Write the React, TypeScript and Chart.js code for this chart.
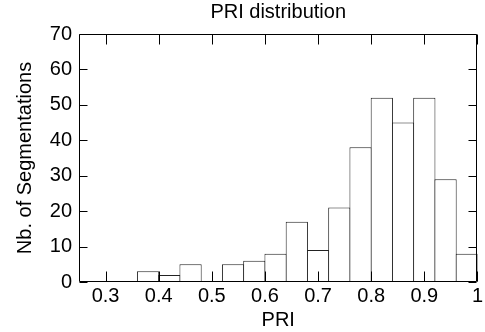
import React, { useEffect, useRef } from "react";
import { Chart, registerables } from "chart.js";

Chart.register(...registerables);

const binCenters = [0.38, 0.42, 0.46, 0.5, 0.54, 0.58, 0.62, 0.66, 0.7, 0.74, 0.78, 0.82, 0.86, 0.9, 0.94, 0.98];
const counts = [3, 2, 5, 0, 5, 6, 8, 17, 9, 21, 38, 52, 45, 52, 29, 8];
const xTickValues = [0.3, 0.4, 0.5, 0.6, 0.7, 0.8, 0.9, 1.0];
const yTickValues = [0, 10, 20, 30, 40, 50, 60, 70];

const FONT = "'Liberation Sans', Arial, Helvetica, sans-serif";
const FS = 20;

const frameTicks = {
  id: "frameTicks",
  afterDraw(chart: any) {
    const { ctx, chartArea, scales } = chart;
    const { left, right, top, bottom } = chartArea;
    const x = scales.x;
    const y = scales.y;
    ctx.save();
    ctx.strokeStyle = "#000";
    ctx.lineWidth = 1;
    const L = Math.round(left) + 0.5;
    const R = Math.round(right) - 0.5;
    const T = Math.round(top) + 0.5;
    const B = Math.round(bottom) - 0.5;
    ctx.beginPath();
    ctx.rect(L, T, R - L, B - T);
    for (const v of xTickValues) {
      const px = Math.round(x.getPixelForValue(v)) + 0.5;
      ctx.moveTo(px, B);
      ctx.lineTo(px, B - 10);
      ctx.moveTo(px, T);
      ctx.lineTo(px, T + 10);
    }
    for (const v of yTickValues) {
      const py = Math.round(y.getPixelForValue(v)) + 0.5;
      ctx.moveTo(L, py);
      ctx.lineTo(L + 8, py);
      ctx.moveTo(R, py);
      ctx.lineTo(R - 8, py);
    }
    ctx.stroke();
    ctx.restore();
  },
};

export default function App() {
  const canvasRef = useRef<HTMLCanvasElement>(null);

  useEffect(() => {
    document.body.style.margin = "0";
    const canvas = canvasRef.current;
    if (!canvas) return;
    Chart.defaults.font.family = FONT;
    Chart.defaults.color = "#000";
    const chart = new Chart(canvas, {
      type: "bar",
      data: {
        datasets: [
          {
            data: binCenters.map((c, i) => ({ x: c, y: counts[i] })),
            backgroundColor: "#fff",
            borderColor: "#222",
            borderWidth: 1,
            barPercentage: 1.047,
            categoryPercentage: 1,
          },
        ],
      },
      options: {
        responsive: false,
        animation: false,
        events: [],
        layout: { padding: { left: 0, right: 5, top: 0, bottom: 0 } },
        plugins: {
          legend: { display: false },
          tooltip: { enabled: false },
          title: {
            display: true,
            text: "PRI distribution",
            fullSize: false,
            color: "#000",
            font: { size: FS, weight: "normal", family: FONT },
            padding: { top: 0, bottom: 10 },
          },
        },
        scales: {
          x: {
            type: "linear",
            offset: false,
            min: 0.25,
            max: 1.0,
            afterBuildTicks: (scale: any) => {
              scale.ticks = xTickValues.map((v) => ({ value: v }));
            },
            afterFit: (scale: any) => {
              scale.height = 50;
            },
            grid: { display: false, drawTicks: false },
            border: { display: false },
            ticks: {
              padding: 2,
              autoSkip: false,
              maxRotation: 0,
              color: "#000",
              font: { size: FS, family: FONT },
              callback: (v: any) => String(Number(Number(v).toFixed(2))),
            },
            title: {
              display: true,
              text: "PRI",
              color: "#000",
              font: { size: FS, family: FONT },
              padding: { top: 0, bottom: 0 },
            },
          },
          y: {
            min: 0,
            max: 70,
            afterBuildTicks: (scale: any) => {
              scale.ticks = yTickValues.map((v) => ({ value: v }));
            },
            afterFit: (scale: any) => {
              scale.width = 79;
            },
            grid: { display: false, drawTicks: false },
            border: { display: false },
            ticks: {
              padding: 7,
              color: "#000",
              font: { size: FS, family: FONT },
              callback: (v: any) => String(v),
            },
            title: {
              display: true,
              text: "Nb. of Segmentations",
              color: "#000",
              font: { size: FS, family: FONT },
              padding: { top: 13, bottom: 0 },
            },
          },
        },
      },
      plugins: [frameTicks],
    });
    return () => chart.destroy();
  }, []);

  return (
    <div style={{ width: 485, height: 332 }}>
      <canvas ref={canvasRef} width={485} height={332} style={{ display: "block" }} />
    </div>
  );
}
